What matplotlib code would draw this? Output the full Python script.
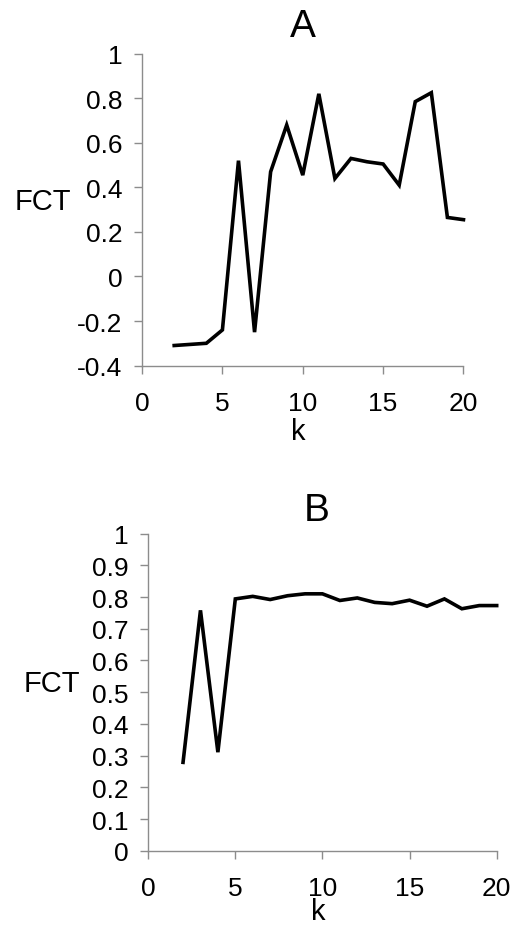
import matplotlib
matplotlib.use('Agg')
import matplotlib.pyplot as plt
from matplotlib import ticker

plt.rcParams['font.family'] = ['Liberation Sans', 'DejaVu Sans']

k = list(range(2, 21))
fct_a = [-0.31, -0.305, -0.30, -0.24, 0.52, -0.25, 0.47, 0.68, 0.455, 0.82,
         0.44, 0.53, 0.515, 0.505, 0.41, 0.785, 0.825, 0.265, 0.255]
fct_b = [0.279, 0.758, 0.311, 0.794, 0.802, 0.792, 0.804, 0.81, 0.81, 0.789,
         0.797, 0.783, 0.779, 0.79, 0.771, 0.794, 0.763, 0.773, 0.773]

xticks = [0, 5, 10, 15, 20]
yticks_a = [-0.4, -0.2, 0, 0.2, 0.4, 0.6, 0.8, 1]
yticks_b = [0, 0.1, 0.2, 0.3, 0.4, 0.5, 0.6, 0.7, 0.8, 0.9, 1]

fig = plt.figure(figsize=(5.11, 9.28), dpi=100)
ax_a = fig.add_axes([0.278, 0.605, 0.629, 0.336])
ax_b = fig.add_axes([0.290, 0.082, 0.682, 0.342])

fmt = ticker.FuncFormatter(lambda v, p: f'{v:g}')

def style(ax, yvals, yticks, title, lab_x, lab_y, title_x, title_y, klab_x, klab_y):
    ax.plot(k, yvals, color='black', lw=2.6, solid_joinstyle='miter', clip_on=False)
    ax.set_xlim(0, 20)
    ax.set_ylim(yticks[0], yticks[-1])
    ax.set_xticks(xticks)
    ax.set_yticks(yticks)
    ax.xaxis.set_major_formatter(fmt)
    ax.yaxis.set_major_formatter(fmt)
    for s in ('top', 'right'):
        ax.spines[s].set_visible(False)
    for s in ('left', 'bottom'):
        ax.spines[s].set_color('#8c8c8c')
        ax.spines[s].set_linewidth(1.0)
    ax.tick_params(axis='both', colors='#8c8c8c', labelcolor='black',
                   labelsize=19, width=1.0, length=6)
    ax.tick_params(axis='x', pad=12)
    ax.tick_params(axis='y', pad=8)
    ax.set_ylabel('FCT', fontsize=21, rotation=0, ha='center', va='center')
    ax.yaxis.set_label_coords(lab_x, lab_y)
    ax.set_xlabel('k', fontsize=21, va='center')
    ax.xaxis.set_label_coords(klab_x, klab_y)
    ax.text(title_x, title_y, title, transform=ax.transAxes, fontsize=28,
            ha='center', va='center')

style(ax_a, fct_a, yticks_a, 'A', -0.308, 0.528, 0.501, 1.09, 0.486, -0.209)
style(ax_b, fct_b, yticks_b, 'B', -0.276, 0.529, 0.483, 1.075, 0.487, -0.19)

fig.savefig('out.png', dpi=100)
